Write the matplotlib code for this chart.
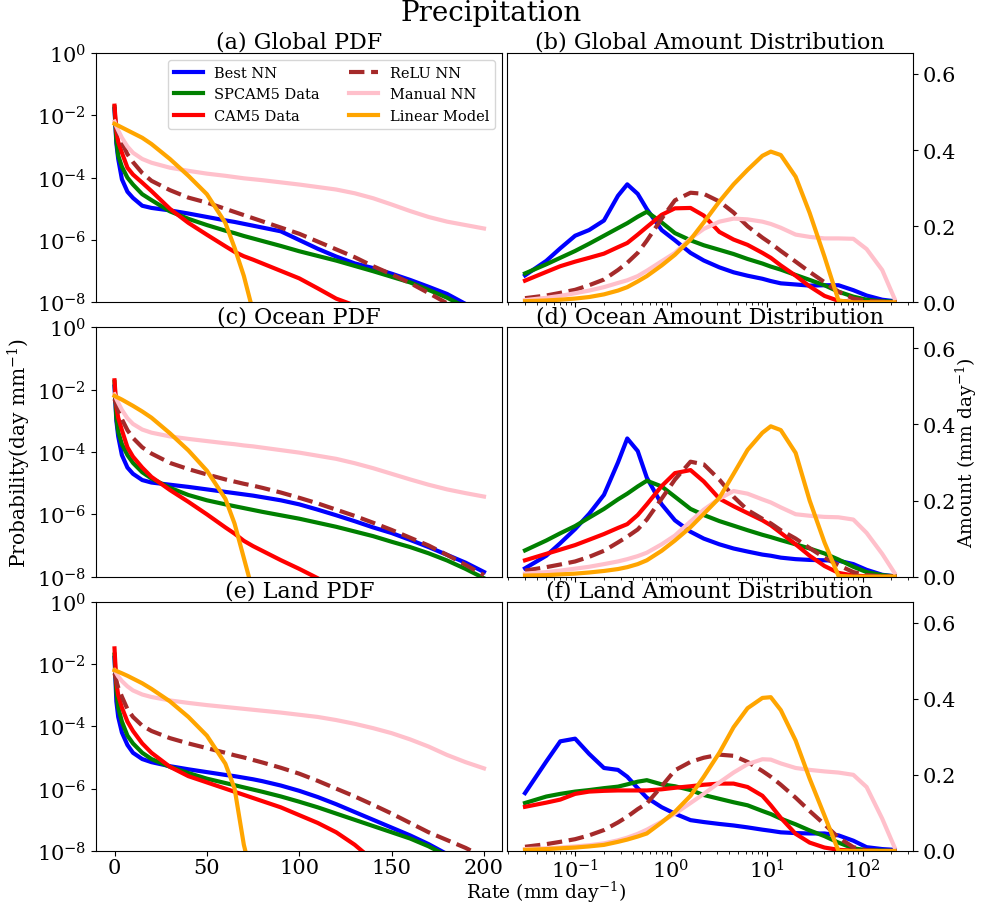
import numpy as np
import matplotlib
matplotlib.use('Agg')
import matplotlib.pyplot as plt
from matplotlib.ticker import NullLocator


plt.rcParams['font.family'] = 'serif'
plt.rcParams['font.serif'] = ['DejaVu Serif']
plt.rcParams['mathtext.fontset'] = 'dejavuserif'

names = ['Best NN', 'SPCAM5 Data', 'CAM5 Data', 'ReLU NN', 'Manual NN',
         'Linear Model']
colors = ['blue', 'green', 'red', 'brown', 'pink', 'orange']
styles = ['-', '-', '-', '--', '-', '-']

# precipitation rate bins (mm/day) for the pdf panels
pdf_rate = [0, 1, 2, 4, 7, 10, 15, 20, 30, 40, 50, 60, 65, 70, 75, 80, 90,
            100, 110, 120, 130, 140, 150, 160, 170, 180, 190, 200]

# log10 of the pdf (day/mm), a shorter list means the curve stops there
glob_pdf_best = [-1.8, -2.9, -3.4, -4.05, -4.45, -4.65, -4.9, -4.97, -5.05, -5.15, -5.26, -5.37, -5.42, -5.48,
                 -5.54, -5.6, -5.72, -6.0, -6.28, -6.53, -6.75, -6.9, -7.08, -7.28, -7.5, -7.73, -8.05, -8.4]
glob_pdf_spcam = [-1.74, -2.8, -3.29, -3.65, -4.0, -4.22, -4.53, -4.72, -5.08, -5.32, -5.52, -5.7, -5.78, -5.87,
                  -5.95, -6.03, -6.19, -6.36, -6.51, -6.66, -6.83, -7.0, -7.18, -7.36, -7.6, -7.85, -8.15, -8.5]
glob_pdf_cam5 = [-1.69, -2.5, -2.85, -3.2, -3.68, -3.9, -4.16, -4.43, -5.0, -5.45, -5.83, -6.2, -6.38, -6.52,
                 -6.63, -6.75, -6.99, -7.23, -7.55, -7.88, -8.1]
glob_pdf_relu = [-2.2, -2.4, -2.55, -2.88, -3.25, -3.5, -3.85, -4.1, -4.4, -4.64, -4.8, -5.0, -5.1, -5.2,
                 -5.3, -5.4, -5.6, -5.8, -6.05, -6.3, -6.55, -6.84, -7.1, -7.38, -7.7, -8.03, -8.4, -8.8]
glob_pdf_manual = [-2.2, -2.35, -2.48, -2.72, -3.0, -3.2, -3.4, -3.52, -3.68, -3.78, -3.87, -3.94, -3.98, -4.02,
                   -4.05, -4.08, -4.15, -4.22, -4.3, -4.38, -4.5, -4.66, -4.86, -5.07, -5.26, -5.41, -5.52, -5.63]
glob_pdf_linear = [-2.27, -2.3, -2.33, -2.39, -2.48, -2.57, -2.72, -2.92, -3.4, -3.94, -4.53, -5.45, -6.25, -7.15,
                   -8.3]

ocean_pdf_best = [-1.9, -3.0, -3.5, -4.1, -4.5, -4.7, -4.9, -4.98, -5.05, -5.12, -5.2, -5.28, -5.32, -5.36,
                  -5.4, -5.45, -5.55, -5.68, -5.85, -6.03, -6.22, -6.42, -6.6, -6.82, -7.05, -7.3, -7.55, -7.85]
ocean_pdf_spcam = [-1.75, -2.9, -3.35, -3.75, -4.1, -4.35, -4.65, -4.85, -5.15, -5.38, -5.55, -5.68, -5.74, -5.8,
                   -5.86, -5.92, -6.03, -6.14, -6.27, -6.4, -6.55, -6.7, -6.88, -7.05, -7.25, -7.48, -7.75, -8.05]
ocean_pdf_cam5 = [-1.7, -2.55, -2.9, -3.3, -3.85, -4.15, -4.5, -4.8, -5.22, -5.6, -6.0, -6.42, -6.62, -6.85,
                  -7.02, -7.17, -7.47, -7.75, -8.05, -8.4]
ocean_pdf_relu = [-2.3, -2.5, -2.65, -2.95, -3.3, -3.55, -3.85, -4.05, -4.35, -4.55, -4.72, -4.88, -4.95, -5.02,
                  -5.08, -5.15, -5.3, -5.47, -5.65, -5.85, -6.05, -6.27, -6.5, -6.75, -7.0, -7.3, -7.62, -7.95]
ocean_pdf_manual = [-2.15, -2.3, -2.42, -2.65, -2.92, -3.1, -3.28, -3.38, -3.5, -3.58, -3.65, -3.72, -3.75, -3.79,
                    -3.82, -3.86, -3.94, -4.02, -4.12, -4.22, -4.36, -4.52, -4.7, -4.88, -5.05, -5.2, -5.32, -5.43]
ocean_pdf_linear = [-2.2, -2.23, -2.26, -2.32, -2.42, -2.52, -2.7, -2.9, -3.4, -3.95, -4.6, -5.5, -6.3, -7.4,
                    -8.5]

land_pdf_best = [-1.8, -3.2, -3.7, -4.2, -4.6, -4.85, -5.05, -5.15, -5.28, -5.38, -5.47, -5.56, -5.6, -5.65,
                 -5.7, -5.76, -5.9, -6.07, -6.27, -6.5, -6.75, -7.0, -7.25, -7.5, -7.78, -8.1, -8.5, -8.9]
land_pdf_spcam = [-1.7, -2.9, -3.4, -3.85, -4.3, -4.55, -4.85, -5.05, -5.3, -5.5, -5.68, -5.82, -5.89, -5.96,
                  -6.03, -6.1, -6.25, -6.42, -6.6, -6.8, -7.0, -7.2, -7.4, -7.6, -7.85, -8.15, -8.5, -8.9]
land_pdf_cam5 = [-1.5, -2.6, -3.0, -3.4, -3.85, -4.15, -4.55, -4.85, -5.3, -5.6, -5.8, -6.0, -6.1, -6.2,
                 -6.3, -6.4, -6.6, -6.85, -7.1, -7.4, -7.8, -8.3]
land_pdf_relu = [-2.3, -2.55, -2.75, -3.05, -3.45, -3.7, -3.98, -4.15, -4.38, -4.55, -4.7, -4.85, -4.93, -5.0,
                 -5.08, -5.16, -5.33, -5.52, -5.75, -6.0, -6.25, -6.52, -6.8, -7.1, -7.4, -7.65, -7.9, -8.2]
land_pdf_manual = [-2.2, -2.3, -2.4, -2.55, -2.72, -2.85, -2.98, -3.06, -3.17, -3.25, -3.32, -3.38, -3.41, -3.44,
                   -3.47, -3.5, -3.56, -3.63, -3.7, -3.8, -3.92, -4.06, -4.22, -4.42, -4.65, -4.92, -5.15, -5.35]
land_pdf_linear = [-2.2, -2.22, -2.25, -2.3, -2.38, -2.47, -2.62, -2.8, -3.2, -3.7, -4.3, -5.2, -6.0, -7.8,
                   -9.0]

# rate bins (mm/day) for the amount distributions
amt_rate = [0.03, 0.05, 0.07, 0.1, 0.14, 0.2, 0.28, 0.35, 0.45, 0.56, 0.8, 1.1, 1.6, 2.2, 3.2, 4.5, 6.3, 9,
            11, 14, 20, 28, 40, 56, 80, 110, 160, 215]

glob_amt_best = [0.071, 0.109, 0.142, 0.175, 0.19, 0.215, 0.28, 0.31, 0.285, 0.245, 0.19, 0.163, 0.13, 0.11,
                 0.092, 0.079, 0.07, 0.062, 0.056, 0.05, 0.047, 0.044, 0.045, 0.045, 0.032, 0.018, 0.007, 0.003]
glob_amt_spcam = [0.076, 0.10, 0.117, 0.135, 0.154, 0.175, 0.195, 0.208, 0.225, 0.238, 0.21, 0.182, 0.163, 0.15,
                  0.138, 0.127, 0.114, 0.102, 0.094, 0.086, 0.072, 0.059, 0.045, 0.028, 0.015, 0.007, 0.003, 0.002]
glob_amt_cam5 = [0.057, 0.08, 0.095, 0.107, 0.117, 0.128, 0.145, 0.156, 0.178, 0.198, 0.23, 0.247, 0.248, 0.228,
                 0.185, 0.165, 0.151, 0.13, 0.117, 0.097, 0.07, 0.042, 0.017, 0.004, 0.001, 0, 0, 0]
glob_amt_relu = [0.011, 0.018, 0.025, 0.033, 0.045, 0.06, 0.085, 0.104, 0.13, 0.162, 0.22, 0.268, 0.288, 0.285,
                 0.265, 0.236, 0.2, 0.17, 0.155, 0.135, 0.107, 0.08, 0.053, 0.028, 0.01, 0.004, 0.002, 0.001]
glob_amt_manual = [0.006, 0.012, 0.017, 0.024, 0.031, 0.04, 0.051, 0.058, 0.069, 0.083, 0.108, 0.13, 0.168, 0.193,
                   0.212, 0.22, 0.218, 0.212, 0.206, 0.196, 0.178, 0.172, 0.168, 0.168, 0.167, 0.14, 0.085, 0.01]
glob_amt_linear = [0.003, 0.005, 0.007, 0.01, 0.014, 0.021, 0.031, 0.04, 0.055, 0.069, 0.097, 0.125, 0.165, 0.21,
                   0.265, 0.31, 0.348, 0.385, 0.396, 0.387, 0.33, 0.235, 0.12, 0.005, 0, 0, 0, 0]

ocean_amt_best = [0.022, 0.055, 0.088, 0.125, 0.165, 0.215, 0.3, 0.363, 0.33, 0.26, 0.19, 0.148, 0.118, 0.1,
                  0.085, 0.074, 0.066, 0.058, 0.055, 0.05, 0.046, 0.044, 0.043, 0.042, 0.033, 0.018, 0.005, 0.001]
ocean_amt_spcam = [0.069, 0.095, 0.114, 0.133, 0.155, 0.178, 0.203, 0.218, 0.237, 0.252, 0.237, 0.21, 0.178, 0.162,
                   0.146, 0.134, 0.122, 0.11, 0.104, 0.096, 0.085, 0.074, 0.061, 0.045, 0.026, 0.012, 0.004, 0.001]
ocean_amt_cam5 = [0.043, 0.06, 0.071, 0.083, 0.097, 0.112, 0.128, 0.138, 0.162, 0.19, 0.238, 0.272, 0.28, 0.25,
                  0.205, 0.185, 0.167, 0.148, 0.135, 0.115, 0.085, 0.055, 0.028, 0.01, 0.003, 0.001, 0, 0]
ocean_amt_relu = [0.016, 0.025, 0.032, 0.04, 0.052, 0.068, 0.09, 0.105, 0.124, 0.15, 0.205, 0.255, 0.302, 0.295,
                  0.255, 0.21, 0.175, 0.152, 0.14, 0.122, 0.1, 0.075, 0.05, 0.03, 0.012, 0.004, 0.001, 0]
ocean_amt_manual = [0.008, 0.012, 0.016, 0.021, 0.026, 0.033, 0.04, 0.046, 0.054, 0.063, 0.085, 0.108, 0.145, 0.176,
                    0.205, 0.225, 0.218, 0.203, 0.195, 0.182, 0.164, 0.16, 0.157, 0.156, 0.15, 0.115, 0.06, 0.01]
ocean_amt_linear = [0.003, 0.004, 0.006, 0.008, 0.011, 0.015, 0.02, 0.025, 0.033, 0.043, 0.068, 0.095, 0.13, 0.165,
                    0.207, 0.27, 0.333, 0.378, 0.395, 0.385, 0.325, 0.2, 0.09, 0.002, 0, 0, 0, 0]

land_amt_best = [0.152, 0.235, 0.288, 0.295, 0.255, 0.218, 0.213, 0.195, 0.165, 0.14, 0.115, 0.098, 0.081, 0.076,
                 0.071, 0.067, 0.062, 0.056, 0.053, 0.049, 0.047, 0.046, 0.046, 0.041, 0.027, 0.01, 0.005, 0.003]
land_amt_spcam = [0.126, 0.143, 0.15, 0.156, 0.16, 0.165, 0.169, 0.175, 0.182, 0.186, 0.175, 0.17, 0.16, 0.147,
                  0.137, 0.128, 0.12, 0.105, 0.097, 0.085, 0.07, 0.054, 0.039, 0.022, 0.007, 0.002, 0.001, 0]
land_amt_cam5 = [0.116, 0.127, 0.135, 0.15, 0.156, 0.158, 0.159, 0.159, 0.159, 0.159, 0.162, 0.166, 0.17, 0.174,
                 0.177, 0.177, 0.168, 0.145, 0.12, 0.087, 0.045, 0.022, 0.009, 0.003, 0.001, 0, 0, 0]
land_amt_relu = [0.011, 0.018, 0.024, 0.031, 0.041, 0.055, 0.075, 0.09, 0.11, 0.125, 0.17, 0.212, 0.234, 0.245,
                 0.253, 0.25, 0.234, 0.21, 0.195, 0.174, 0.14, 0.105, 0.07, 0.035, 0.01, 0.002, 0, 0]
land_amt_manual = [0.005, 0.007, 0.009, 0.012, 0.015, 0.02, 0.028, 0.035, 0.045, 0.056, 0.077, 0.098, 0.126, 0.15,
                   0.18, 0.206, 0.228, 0.241, 0.24, 0.23, 0.218, 0.213, 0.209, 0.206, 0.2, 0.168, 0.085, 0.01]
land_amt_linear = [0.003, 0.005, 0.007, 0.009, 0.012, 0.016, 0.024, 0.03, 0.038, 0.046, 0.075, 0.103, 0.145, 0.195,
                   0.258, 0.325, 0.375, 0.402, 0.404, 0.37, 0.29, 0.19, 0.093, 0, 0, 0, 0, 0]


def pdf_plot(ax, curves, title):
    for vals, name, c, ls in zip(curves, names, colors, styles):
        logp = np.full(len(pdf_rate), np.nan)
        logp[:len(vals)] = vals
        ax.plot(pdf_rate, 10.0 ** logp, color=c, ls=ls, lw=3, label=name)
    ax.set_yscale('log')
    ax.set_ylim(1e-8, 1e0)
    ax.set_yticks([1e0, 1e-2, 1e-4, 1e-6, 1e-8])
    ax.yaxis.set_minor_locator(NullLocator())
    ax.set_title(title, fontsize=16, pad=2)
    ax.tick_params(labelsize=15)


def amount_plot(ax, curves, title):
    for vals, name, c, ls in zip(curves, names, colors, styles):
        ax.plot(amt_rate, vals, color=c, ls=ls, lw=3, label=name)
    ax.set_xscale('log')
    ax.set_ylim(0, 0.655)
    ax.set_yticks([0.0, 0.2, 0.4, 0.6])
    ax.yaxis.tick_right()
    ax.yaxis.set_label_position('right')
    ax.set_title(title, fontsize=16, pad=2)
    ax.tick_params(labelsize=15)


fig, axes = plt.subplots(3, 2, figsize=(9.82, 9.03), dpi=100)
fig.subplots_adjust(left=0.0978, right=0.9297, bottom=0.0565, top=0.9402,
                    wspace=0.01, hspace=0.1)

pdf_plot(axes[0, 0], [glob_pdf_best, glob_pdf_spcam, glob_pdf_cam5, glob_pdf_relu,
                      glob_pdf_manual, glob_pdf_linear], '(a) Global PDF')
pdf_plot(axes[1, 0], [ocean_pdf_best, ocean_pdf_spcam, ocean_pdf_cam5, ocean_pdf_relu,
                      ocean_pdf_manual, ocean_pdf_linear], '(c) Ocean PDF')
pdf_plot(axes[2, 0], [land_pdf_best, land_pdf_spcam, land_pdf_cam5, land_pdf_relu,
                      land_pdf_manual, land_pdf_linear], '(e) Land PDF')

amount_plot(axes[0, 1], [glob_amt_best, glob_amt_spcam, glob_amt_cam5, glob_amt_relu,
                         glob_amt_manual, glob_amt_linear], '(b) Global Amount Distribution')
amount_plot(axes[1, 1], [ocean_amt_best, ocean_amt_spcam, ocean_amt_cam5, ocean_amt_relu,
                         ocean_amt_manual, ocean_amt_linear], '(d) Ocean Amount Distribution')
amount_plot(axes[2, 1], [land_amt_best, land_amt_spcam, land_amt_cam5, land_amt_relu,
                         land_amt_manual, land_amt_linear], '(f) Land Amount Distribution')

# only the bottom row carries x tick labels
for ax in axes[:2, 0]:
    ax.tick_params(bottom=False, labelbottom=False)
for ax in axes[:2, 1]:
    ax.tick_params(labelbottom=False)
for ax in axes[:, 1]:
    ax.set_xlim(axes[2, 1].get_xlim())
for ax in axes[2, :]:
    ax.tick_params(axis='x', pad=1.5)
axes[2, 0].set_xticks([0, 50, 100, 150, 200])

axes[0, 0].legend(loc='upper right', ncol=2, fontsize=10.5)

axes[1, 0].set_ylabel(r'Probability$(\mathrm{day\ mm^{-1}})$', fontsize=14.5,
                      labelpad=3)
axes[1, 1].set_ylabel(r'Amount $(\mathrm{mm\ day^{-1}})$', fontsize=13.5,
                      labelpad=-2)
fig.text(0.556, 0.012, r'Rate $(\mathrm{mm\ day^{-1}})$', fontsize=13.5,
         ha='center', va='center')
fig.text(0.5, 0.9845, 'Precipitation', fontsize=20, ha='center', va='center')

fig.savefig('out.png', dpi=100)
